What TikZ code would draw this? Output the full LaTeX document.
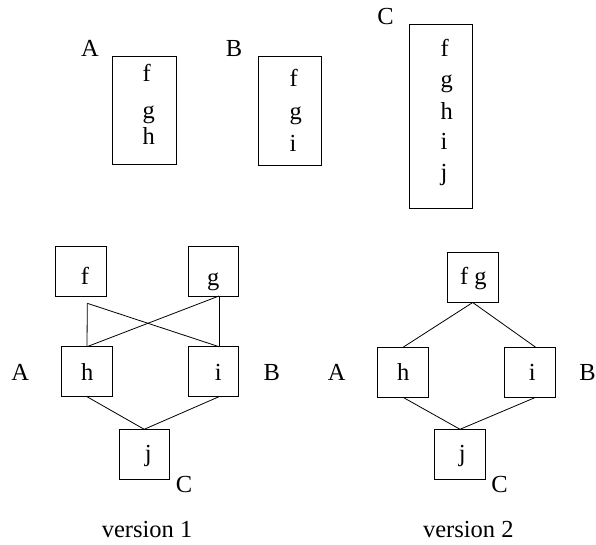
\documentclass[tikz,border=0pt]{standalone}
\usepackage{fontspec}
\setmainfont{Liberation Serif}
\begin{document}
\begin{tikzpicture}[x=1pt,y=-1pt,
  every node/.style={inner sep=0pt, outer sep=0pt},
  box/.style={draw, line width=0.8pt, minimum width=#1, minimum height=50pt},
  box/.default=50pt,
  tall/.style={draw, line width=0.8pt},
  txt/.style={anchor=base, font=\fontsize{24.5}{28}\selectfont},
  ltxt/.style={anchor=base west, font=\fontsize{24.5}{28}\selectfont},
  conn/.style={line width=0.8pt}]
\useasboundingbox (0,0) rectangle (596,545);

% ---- top boxes ----
\node[tall, minimum width=63.5pt, minimum height=108pt] (Abox) at (144.25,110.5) {};
\node[tall, minimum width=63pt, minimum height=109pt] (Bbox) at (289.5,110.5) {};
\node[tall, minimum width=63.4pt, minimum height=184pt] (Cbox) at (441,116.3) {};
\node[txt] (Alab) at (90,57) {A};
\node[txt] (Blab) at (234,57) {B};
\node[txt] (Clab) at (385.5,25) {C};
\node[ltxt] (Af) at (142.5,82) {f};
\node[ltxt] (Ag) at (142.5,119) {g};
\node[ltxt] (Ah) at (142.5,145) {h};
\node[ltxt] (Bf) at (289.5,87) {f};
\node[ltxt] (Bg) at (289.5,120) {g};
\node[ltxt] (Bi) at (289.5,152) {i};
\node[ltxt] (Cf) at (440.5,57) {f};
\node[ltxt] (Cg) at (440.5,87.5) {g};
\node[ltxt] (Ch) at (440.5,120) {h};
\node[ltxt] (Ci) at (440.5,150) {i};
\node[ltxt] (Cj) at (440.5,181) {j};

% ---- version 1 ----
\node[box=51.7pt] (f1) at (80.8,271) {};
\node[box] (g1) at (213.3,271) {};
\node[box=50.6pt] (h1) at (87,371.7) {};
\node[box] (i1) at (213.3,371.7) {};
\node[box=50.3pt] (j1) at (144.2,454.3) {};
\node[txt] (f1t) at (85,284) {f};
\node[txt] (g1t) at (213.3,285) {g};
\node[txt] (h1t) at (87.3,380) {h};
\node[txt] (i1t) at (218.3,380) {i};
\node[txt] (j1t) at (148.3,461) {j};
\node[txt] (A1) at (20.3,380) {A};
\node[txt] (B1) at (271.7,380) {B};
\node[txt] (C1) at (184,492) {C};
\coordinate (f1b) at (87.3,303.3);
\coordinate (g1b) at (219,296);
\coordinate (i1n) at (219,346.7);
\coordinate (i1s) at (219,396.7);
\draw[conn] (f1b) -- (h1.north);
\draw[conn] (f1b) -- (i1n);
\draw[conn] (g1b) -- (h1.north);
\draw[conn] (g1b) -- (i1n);
\draw[conn] (h1.south) -- (j1.north);
\draw[conn] (i1s) -- (j1.north);
\node[txt] (v1) at (147,537) {version 1};

% ---- version 2 ----
\node[box=50.7pt] (fg2) at (472.7,277.5) {};
\node[box=50.6pt] (h2) at (403,372.3) {};
\node[box=51pt] (i2) at (529.5,372.3) {};
\node[box=51.4pt] (j2) at (460,454.3) {};
\node[txt] (fg2t) at (473.3,284.3) {f g};
\node[txt] (h2t) at (403.3,380) {h};
\node[txt] (i2t) at (532.3,380) {i};
\node[txt] (j2t) at (462.3,461) {j};
\node[txt] (A2) at (336.7,380) {A};
\node[txt] (B2) at (587.5,380) {B};
\node[txt] (C2) at (499.5,492) {C};
\coordinate (i2n) at (535.7,347.3);
\coordinate (i2s) at (535.7,397.3);
\draw[conn] (fg2.south) -- (h2.north);
\draw[conn] (fg2.south) -- (i2n);
\draw[conn] (h2.south) -- (j2.north);
\draw[conn] (i2s) -- (j2.north);
\node[txt] (v2) at (468.3,537) {version 2};
\end{tikzpicture}
\end{document}
